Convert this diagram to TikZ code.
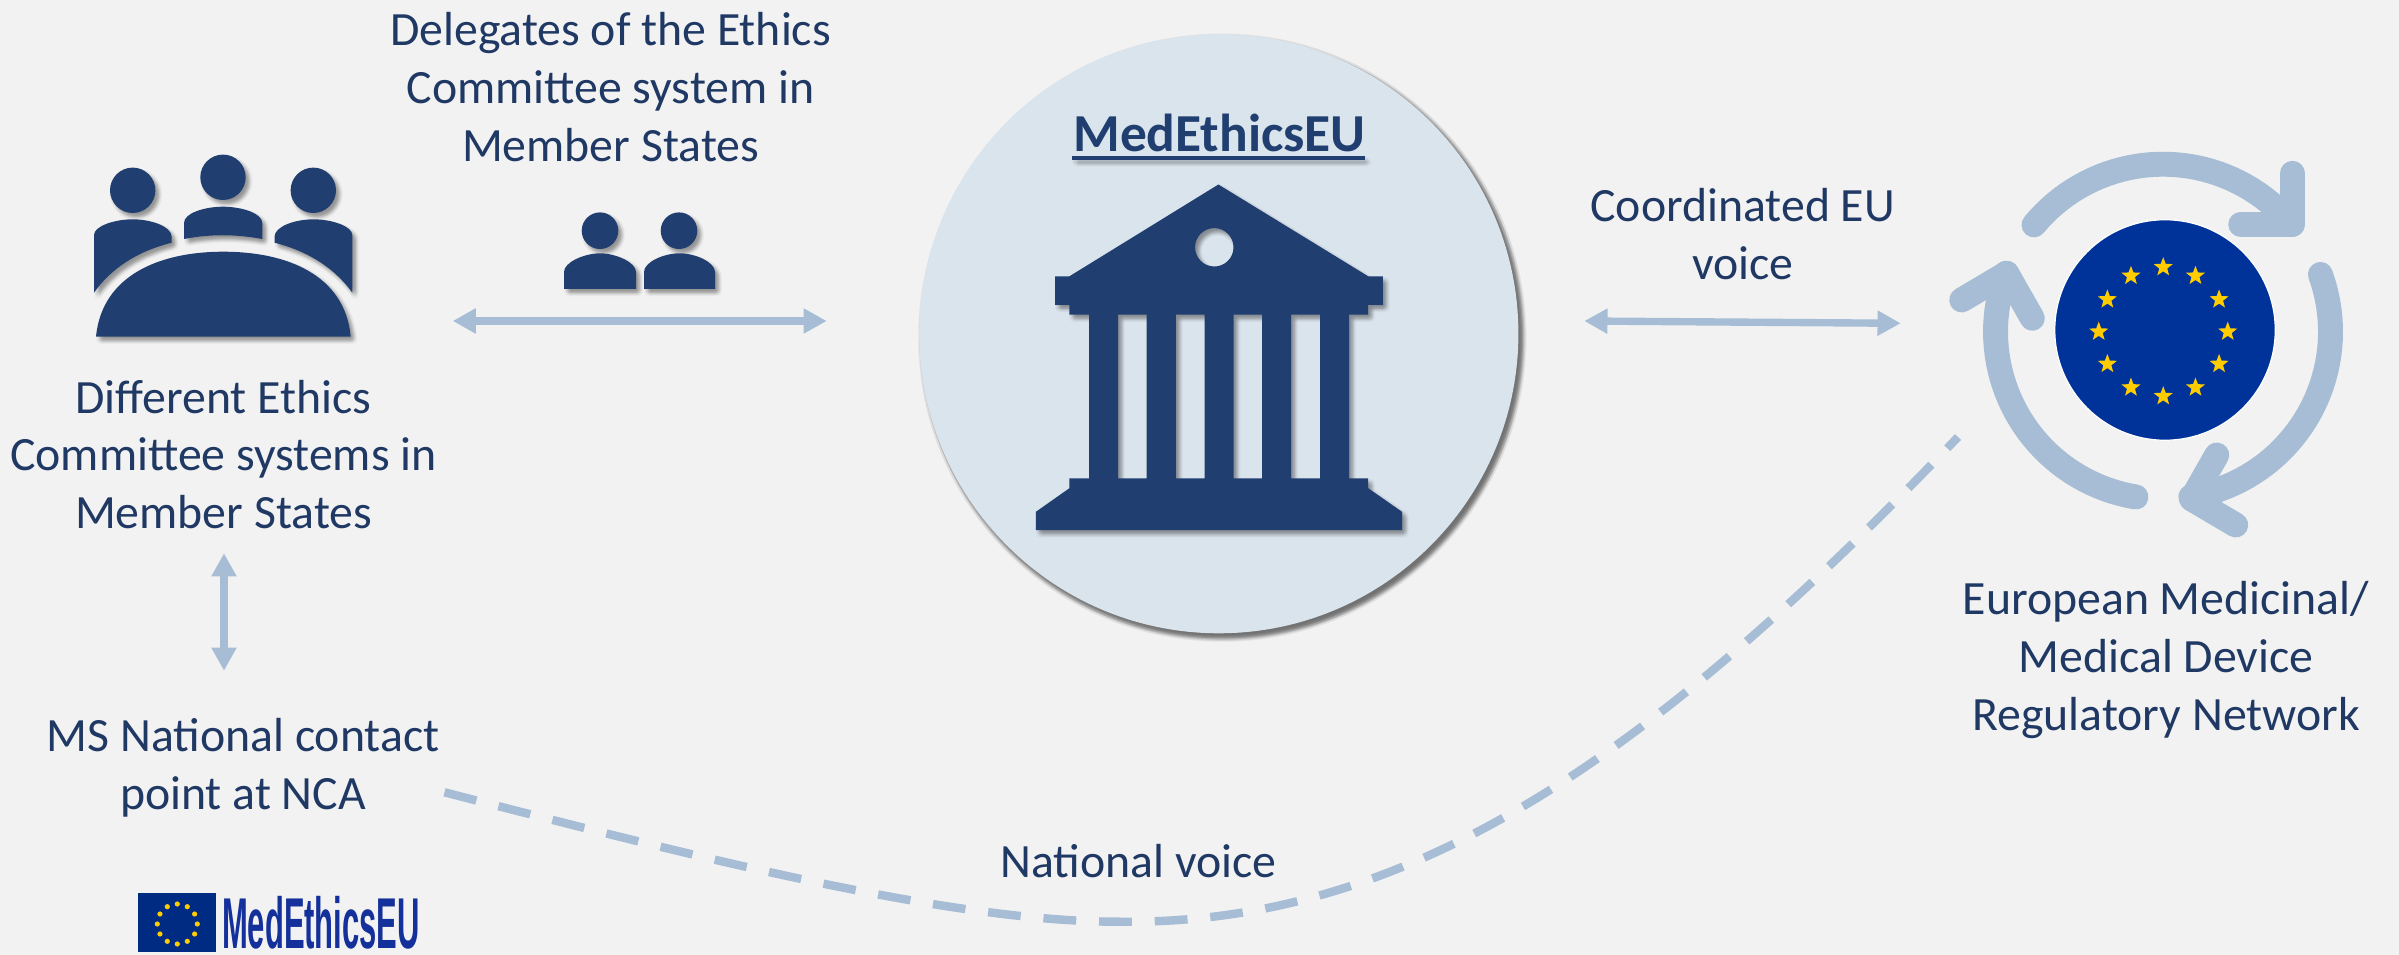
\documentclass[tikz,border=0pt]{standalone}
\usepackage{fontspec}
\usepackage{graphicx}
\setmainfont{Carlito}
\newfontfamily\logofont{Liberation Sans}
\usetikzlibrary{arrows.meta,shapes.geometric}
\definecolor{bgcol}{HTML}{F2F2F2}
\definecolor{navy}{HTML}{203F70}
\definecolor{textnavy}{HTML}{1F3864}
\definecolor{pale}{HTML}{A6BDD5}
\definecolor{discfill}{HTML}{DAE4ED}
\definecolor{eublue}{HTML}{003399}
\definecolor{eustar}{HTML}{FFCC00}
\definecolor{logoblue}{HTML}{14309A}
\tikzset{
  label text/.style={text=textnavy,font=\fontsize{27.2}{32.9}\selectfont,align=center,inner sep=0pt},
  biarrow/.style={draw=pale,line width=4.2pt,{Triangle[length=13.2pt,width=13.6pt]}-{Triangle[length=13.2pt,width=13.6pt]}},
  dashline/.style={draw=pale,line width=4.8pt,dash pattern=on 18.7pt off 13pt},
  cyclearrow/.style={draw=pale,line width=14.2pt,line cap=round,line join=round},
  flagstar/.style={star,star points=5,star point ratio=2.382,fill=eustar,inner sep=0pt,minimum size=11.4pt},
}
% soft shadow: #1 opacity of one copy, #2 path
\newcommand\castshadow[2]{%
  \foreach \rr in {1.5,3.5}{%
    \foreach \aa in {0,45,...,315}{%
      \path[shift={({3.5+\rr*cos(\aa)},{4+\rr*sin(\aa)})},fill=black,opacity=#1,even odd rule] #2;%
    }%
  }%
}
\newcommand\headL{(132.7,190.3) circle[radius=22.7]}
\newcommand\headC{(223,177.3) circle[radius=22.7]}
\newcommand\headR{(313.3,190.3) circle[radius=22.7]}
\newcommand\bodyL{(94,292.7) -- (94,235) .. controls (94,226) and (115,219.3) .. (132.7,219.3) .. controls (150,219.3) and (171.7,226) .. (171.7,237) -- (171.7,242.7) .. controls (135,252) and (110,270) .. (94,292.7) -- cycle}
\newcommand\bodyC{(184,239) -- (184,223) .. controls (184,213) and (205,206.7) .. (223,206.7) .. controls (241,206.7) and (262.3,213) .. (262.3,223) -- (262.3,239) .. controls (235,234) and (210,234) .. (184,239) -- cycle}
\newcommand\bodyR{(352.3,292.7) -- (352.3,235) .. controls (352.3,226) and (331,219.3) .. (313.5,219.3) .. controls (296,219.3) and (274.5,226) .. (274.5,237) -- (274.5,242.7) .. controls (311,252) and (336,270) .. (352.3,292.7) -- cycle}
\newcommand\tablepath{(96,336.7) .. controls (102,275) and (160,251.7) .. (223.3,251.7) .. controls (287,251.7) and (345,275) .. (350.7,336.7) -- cycle}
\newcommand\delegates{(600,230.7) circle[radius=18.3] (679,230.7) circle[radius=18.3]
  (564,289) -- (564,272) .. controls (564,262) and (585,253.3) .. (600,253.3) .. controls (615,253.3) and (636,262) .. (636,272) -- (636,289) -- cycle
  (644,289) -- (644,272) .. controls (644,262) and (664,253.3) .. (679.5,253.3) .. controls (695,253.3) and (715,262) .. (715,272) -- (715,289) -- cycle}
\newcommand\temple{(1218.4,184.5) -- (1368.2,276.3) -- (1382.9,276.3) -- (1382.9,304.9) -- (1368.2,304.9) -- (1368.2,314.7) -- (1349,314.7) -- (1349,478.4) -- (1368.2,478.4) -- (1368.2,488.2) -- (1402,511.8) -- (1402,530.2) -- (1035.9,530.2) -- (1035.9,511.8) -- (1069.4,488.2) -- (1069.4,478.4) -- (1089,478.4) -- (1089,314.7) -- (1069.4,314.7) -- (1069.4,304.9) -- (1055,304.9) -- (1055,276.3) -- (1069.4,276.3) -- cycle
  (1118,314.7) rectangle (1146.5,478.4)
  (1175.9,314.7) rectangle (1204.5,478.4)
  (1233.5,314.7) rectangle (1262,478.4)
  (1291,314.7) rectangle (1320,478.4)
  (1214.3,247.3) circle[radius=19.2]}
\newcommand\discpath{(1218.8,333.7) circle[radius=300.8]}
\newcommand\ulinepath{(1072,156) rectangle (1364.5,160)}
\begin{document}
\begin{tikzpicture}[x=0.02cm,y=-0.02cm]
\useasboundingbox (0,0) rectangle (2399,955);
\fill[bgcol] (0,0) rectangle (2399,955);

% meeting icon
\castshadow{.028}{\headL \headC \headR}
\castshadow{.028}{\bodyL}
\castshadow{.028}{\bodyC}
\castshadow{.028}{\bodyR}
\castshadow{.028}{\tablepath}
\fill[navy] \headL \headC \headR;
\fill[navy] \bodyL; \fill[navy] \bodyC; \fill[navy] \bodyR; \fill[navy] \tablepath;

% delegates icon
\castshadow{.028}{\delegates}
\fill[navy] \delegates;

% central disc
\castshadow{.045}{\discpath}
\node[circle,fill=discfill,inner sep=0pt,minimum size=601.6*.5669pt] (disc) at (1218.8,333.7) {};
\castshadow{.028}{\temple}
\fill[navy,even odd rule] \temple;
\castshadow{.02}{\ulinepath}
\node[text=navy,inner sep=0pt,anchor=base,font=\fontsize{30.4}{36}\selectfont\bfseries] (title) at (1219.5,151.5) {MedEthicsEU};
\fill[navy] \ulinepath;

% EU regulatory network
\draw[cyclearrow] plot[domain=140.4:39.8,samples=40] ({2163+167.5*cos(\x)},{331.7-167.5*sin(\x)}) -- (2292.3,224.3);
\draw[cyclearrow] (2292.3,173.3) -- (2292.3,224.3) -- (2240.7,224.3);
\draw[cyclearrow] plot[domain=20:-80.4,samples=40] ({2163+167.5*cos(\x)},{331.7-167.5*sin(\x)}) -- (2191.7,499);
\draw[cyclearrow] (2216.7,455) -- (2191.7,499) -- (2235.7,525);
\draw[cyclearrow] plot[domain=260.7:159.6,samples=40] ({2163+167.5*cos(\x)},{331.7-167.5*sin(\x)}) -- (2006.7,273.3);
\draw[cyclearrow] (1961.7,300) -- (2006.7,273.3) -- (2032.3,318.3);
\node[circle,fill=eublue,draw=white,line width=.7pt,inner sep=0pt,minimum size=221.4*.5669pt] (euflag) at (2165,330) {};
\foreach \a in {0,30,...,330}{
  \node[flagstar] (star\a) at ({2163.2+64.5*cos(\a)},{331.7-64.5*sin(\a)}) {};
}

% labels
\node[label text] (delegates) at (610.5,87) {Delegates of the Ethics\\Committee system in\\Member States};
\node[label text] (systems) at (223.5,454.5) {Different Ethics\\Committee systems in\\Member States};
\node[label text] (contact) at (243,768) {MS National contact\\point at NCA};
\node[label text] (coord) at (1742.7,234) {Coordinated EU\\voice};
\node[label text] (network) at (2166,660) {European Medicinal/\\Medical Device\\Regulatory Network};
\node[label text] (natvoice) at (1138.6,861) {National voice};

% connectors
\coordinate (a1) at (452.7,321);
\coordinate (a2) at (826.7,321);
\coordinate (b1) at (1584.3,321);
\coordinate (b2) at (1900.7,323.3);
\coordinate (c1) at (224,553.3);
\coordinate (c2) at (224,670.7);
\coordinate (d1) at (444.5,792.3);
\coordinate (d2) at (1119,921.7);
\coordinate (d3) at (1958,437);
\draw[biarrow] (a1) -- (a2);
\draw[biarrow] (b1) -- (b2);
\draw[biarrow] (c1) -- (c2);
\draw[dashline] (d1) .. controls (700,858) and (950,922) .. (d2) .. controls (1400,925) and (1640,770) .. (d3);

% logo
\fill[eublue!85!black] (138,893) rectangle (216,952);
\foreach \a in {0,30,...,330}{
  \fill[eustar] ({177.3+20*cos(\a)},{924-20*sin(\a)}) circle[radius=2.6];
}
\node[text=logoblue,inner sep=0pt,anchor=base west] (logo) at (221.7,948) {\scalebox{.43}[1]{\logofont\bfseries\fontsize{41}{41}\selectfont MedEthicsEU}};
\end{tikzpicture}
\end{document}
